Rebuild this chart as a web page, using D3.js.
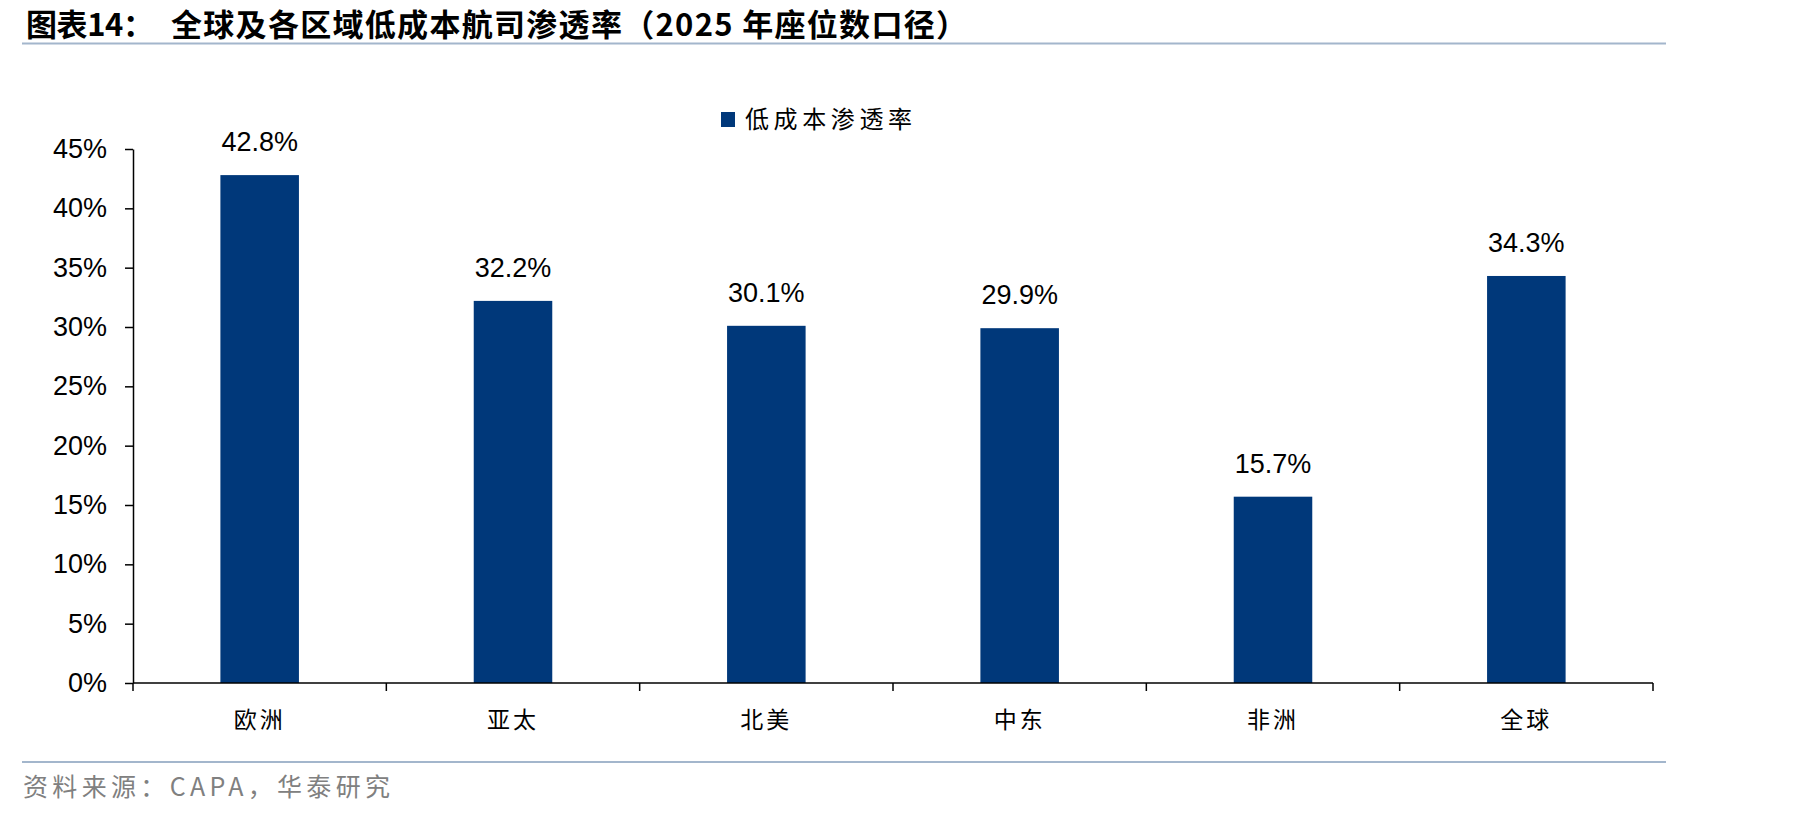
<!DOCTYPE html>
<html lang="zh">
<head>
    <meta charset="utf-8">
    <title>全球及各区域低成本航司渗透率</title>
    <script src="https://d3js.org/d3.v7.min.js"></script>
    <style>
        body {
            margin: 0;
            background: #fff;
        }
        svg {
            display: block;
        }
        .cjk {
            font-family: "Noto Sans CJK SC", sans-serif;
        }
        .num {
            font-family: "Liberation Sans", Arial, sans-serif;
        }
    </style>
</head>
<body>
<svg id="chart" width="1819" height="816"></svg>

<script>
    // données
    const regions = ["欧洲", "亚太", "北美", "中东", "非洲", "全球"];
    const penetration = [42.8, 32.2, 30.1, 29.9, 15.7, 34.3];
    const yTicks = [0, 5, 10, 15, 20, 25, 30, 35, 40, 45];
    const seriesName = "低成本渗透率";
    const titlePrefix = "图表14：";
    const titleText = "全球及各区域低成本航司渗透率（2025 年座位数口径）";
    const sourceText = "资料来源：CAPA，华泰研究";

    const data = regions.map((r, i) => ({region: r, value: penetration[i]}));

    const plot = {left: 133, right: 1653, top: 149, bottom: 683};
    const barColor = "#00387a";
    const ruleColor = "#a3b6cc";

    const svg = d3.select("#chart");

    // titre
    const title = svg.append("text")
        .attr("class", "cjk")
        .attr("y", 36)
        .attr("font-size", 31)
        .attr("font-weight", 700)
        .attr("fill", "#000");
    title.append("tspan")
        .attr("x", 26)
        .attr("textLength", 128)
        .attr("lengthAdjust", "spacing")
        .text(titlePrefix);
    title.append("tspan")
        .attr("x", 171)
        .attr("textLength", 796)
        .attr("lengthAdjust", "spacing")
        .text(titleText);

    svg.append("line")
        .attr("x1", 22).attr("x2", 1666)
        .attr("y1", 43.5).attr("y2", 43.5)
        .attr("stroke", ruleColor)
        .attr("stroke-width", 2.2);

    // échelles
    const x = d3.scaleBand()
        .domain(regions)
        .range([plot.left, plot.right])
        .paddingInner(0.69)
        .paddingOuter(0.345);

    const y = d3.scaleLinear()
        .domain([0, 45])
        .range([plot.bottom, plot.top]);

    // axe Y
    const yAxis = svg.append("g")
        .attr("transform", `translate(${plot.left},0)`)
        .call(d3.axisLeft(y).tickValues(yTicks).tickSize(8).tickSizeOuter(0).tickPadding(18)
            .tickFormat(d => d + "%"));
    yAxis.selectAll("text")
        .attr("class", "num")
        .attr("font-size", 27)
        .attr("fill", "#000");
    yAxis.selectAll("line, path")
        .attr("stroke", "#000")
        .attr("stroke-width", 1.5);

    // barres
    svg.selectAll("rect.bar")
        .data(data)
        .enter()
        .append("rect")
        .attr("class", "bar")
        .attr("x", d => x(d.region))
        .attr("y", d => y(d.value))
        .attr("width", x.bandwidth())
        .attr("height", d => y(0) - y(d.value))
        .attr("fill", barColor);

    // étiquettes de valeur
    svg.selectAll("text.value")
        .data(data)
        .enter()
        .append("text")
        .attr("class", "value num")
        .attr("x", d => x(d.region) + x.bandwidth() / 2)
        .attr("y", d => y(d.value) - 24)
        .attr("text-anchor", "middle")
        .attr("font-size", 27)
        .attr("fill", "#000")
        .text(d => d.value.toFixed(1) + "%");

    // axe X : ligne, graduations aux limites des catégories, libellés
    const bounds = d3.scaleLinear()
        .domain([0, regions.length])
        .range([plot.left, plot.right]);

    const xAxis = svg.append("g")
        .attr("transform", `translate(0,${plot.bottom})`);
    xAxis.append("line")
        .attr("x1", plot.left).attr("x2", plot.right)
        .attr("stroke", "#000")
        .attr("stroke-width", 1.5);
    xAxis.selectAll("line.tick")
        .data(d3.range(regions.length + 1))
        .enter()
        .append("line")
        .attr("class", "tick")
        .attr("x1", d => bounds(d)).attr("x2", d => bounds(d))
        .attr("y1", 0).attr("y2", 8)
        .attr("stroke", "#000")
        .attr("stroke-width", 1.5);
    xAxis.selectAll("text")
        .data(regions)
        .enter()
        .append("text")
        .attr("class", "cjk")
        .attr("x", d => x(d) + x.bandwidth() / 2)
        .attr("y", 45)
        .attr("text-anchor", "middle")
        .attr("font-size", 23)
        .attr("letter-spacing", 3)
        .attr("fill", "#000")
        .text(d => d);

    // légende
    const legend = svg.append("g")
        .attr("transform", "translate(721,112)");
    legend.append("rect")
        .attr("width", 14)
        .attr("height", 15)
        .attr("fill", barColor);
    legend.append("text")
        .attr("class", "cjk")
        .attr("x", 24)
        .attr("y", 16)
        .attr("font-size", 24)
        .attr("textLength", 167)
        .attr("lengthAdjust", "spacing")
        .attr("fill", "#000")
        .text(seriesName);

    // source
    svg.append("line")
        .attr("x1", 22).attr("x2", 1666)
        .attr("y1", 762).attr("y2", 762)
        .attr("stroke", ruleColor)
        .attr("stroke-width", 2);
    svg.append("text")
        .attr("class", "cjk")
        .attr("x", 23)
        .attr("y", 796)
        .attr("font-size", 25)
        .attr("textLength", 367)
        .attr("lengthAdjust", "spacing")
        .attr("fill", "#808080")
        .text(sourceText);
</script>
</body>
</html>
